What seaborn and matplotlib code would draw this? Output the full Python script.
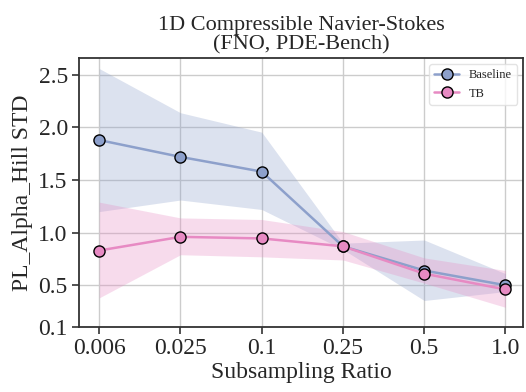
import matplotlib
matplotlib.use("Agg")
import matplotlib.pyplot as plt
import seaborn as sns
import pandas as pd
import numpy as np

# Subsampling ratios (categorical x axis)
ratios = ["0.006", "0.025", "0.1", "0.25", "0.5", "1.0"]

# Mean PL_Alpha_Hill STD per method
baseline_mean = [1.88, 1.72, 1.58, 0.87, 0.64, 0.50]
tb_mean = [0.83, 0.96, 0.945, 0.87, 0.61, 0.46]

# Shaded spread (lower / upper) per method
baseline_lo = [1.20, 1.31, 1.22, 0.84, 0.355, 0.44]
baseline_hi = [2.56, 2.14, 1.955, 0.90, 0.93, 0.61]
tb_lo = [0.38, 0.79, 0.77, 0.74, 0.52, 0.29]
tb_hi = [1.29, 1.14, 1.125, 1.01, 0.76, 0.64]

methods = ["Baseline", "TB"]
colors = {"Baseline": "#8da0cb", "TB": "#e78ac3"}

sns.set_theme(style="ticks")
plt.rcParams["font.family"] = ["Liberation Serif", "DejaVu Serif"]

df = pd.DataFrame({
    "Subsampling Ratio": ratios * 2,
    "value": baseline_mean + tb_mean,
    "method": ["Baseline"] * len(ratios) + ["TB"] * len(ratios),
})
df["x"] = list(range(len(ratios))) * 2

fig, ax = plt.subplots(figsize=(5.26, 3.92), dpi=100)

xs = np.arange(len(ratios))
ax.fill_between(xs, baseline_lo, baseline_hi, color=colors["Baseline"], alpha=0.3, linewidth=0, zorder=1)
ax.fill_between(xs, tb_lo, tb_hi, color=colors["TB"], alpha=0.3, linewidth=0, zorder=1)

sns.lineplot(data=df, x="x", y="value", hue="method", palette=colors,
             hue_order=methods, marker="o", markersize=8,
             markeredgecolor="black", markeredgewidth=1.0,
             linewidth=1.8, ax=ax, zorder=3)

ax.set_xticks(xs)
ax.set_xticklabels(ratios)
ax.set_xlim(-0.25, 5.22)
ax.set_ylim(0.1, 2.66)
ax.set_yticks([0.1, 0.5, 1.0, 1.5, 2.0, 2.5])
ax.set_yticklabels(["0.1", "0.5", "1.0", "1.5", "2.0", "2.5"])
ax.grid(True, color="#cccccc", linewidth=1.0)
ax.set_axisbelow(True)

ax.tick_params(axis="both", labelsize=17, length=5, width=1.2, color="#333333", pad=3)
for s in ax.spines.values():
    s.set_color("#333333")
    s.set_linewidth(1.3)

ax.set_xlabel("Subsampling Ratio", fontsize=17, labelpad=2)
ax.set_ylabel("PL_Alpha_Hill STD", fontsize=17, labelpad=4)
ax.set_title("1D Compressible Navier-Stokes\n(FNO, PDE-Bench)", fontsize=16, linespacing=1.0)

leg = ax.legend(title=None, loc="upper right", fontsize=9, frameon=True)
leg.get_frame().set_edgecolor("#dddddd")

fig.subplots_adjust(left=0.15, right=0.995, top=0.852, bottom=0.165)
fig.savefig("out.png", dpi=100)
